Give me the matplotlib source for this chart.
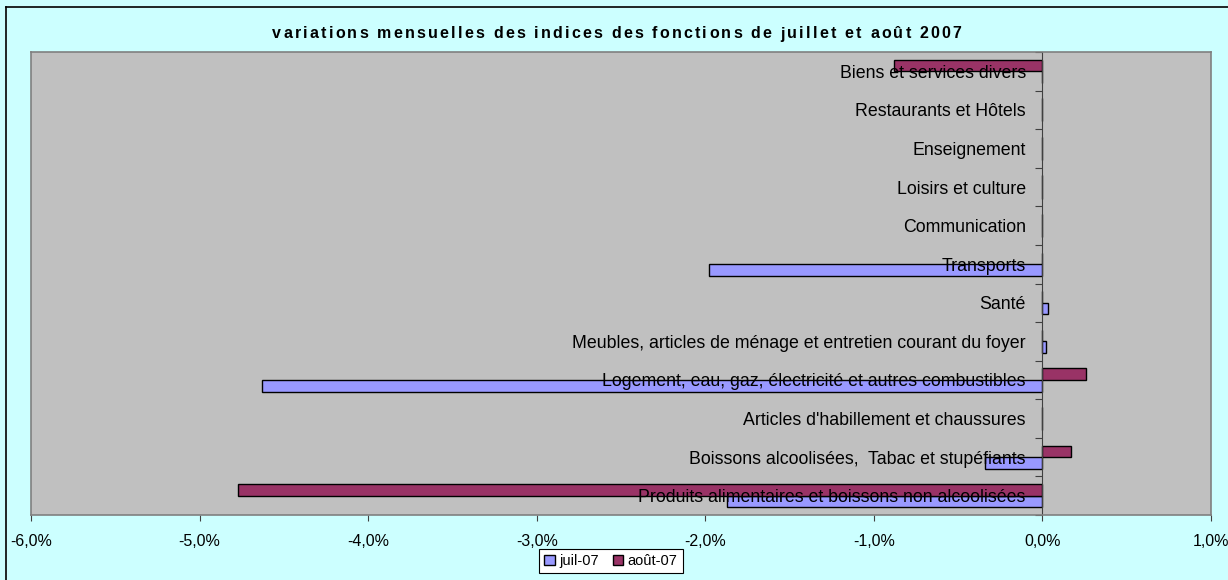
import matplotlib
matplotlib.use('Agg')
import matplotlib.pyplot as plt
from matplotlib.ticker import FuncFormatter, FixedLocator
from matplotlib.lines import Line2D
import numpy as np

plt.rcParams['font.family'] = ['Liberation Sans', 'DejaVu Sans']

# categories from bottom to top
categories = [
    "Produits alimentaires et boissons non alcoolisées",
    "Boissons alcoolisées,  Tabac et stupéfiants",
    "Articles d'habillement et chaussures",
    "Logement, eau, gaz, électricité et autres combustibles",
    "Meubles, articles de ménage et entretien courant du foyer",
    "Santé",
    "Transports",
    "Communication",
    "Loisirs et culture",
    "Enseignement",
    "Restaurants et Hôtels",
    "Biens et services divers",
]
juil_07 = [-0.0187, -0.0034, 0.0, -0.0463, 0.0002, 0.00035, -0.0198, 0.0, 0.0, 0.0, 0.0, 0.0]
aout_07 = [-0.0477, 0.0017, 0.0, 0.0026, 0.0, 0.0, 0.0, 0.0, 0.0, 0.0, 0.0, -0.0088]
title = "variations mensuelles des indices des fonctions de juillet et août 2007"

W, H = 1228, 580
bg = '#CCFFFF'
fig = plt.figure(figsize=(W/100, H/100), dpi=100, facecolor=bg)
ax = fig.add_axes([31/W, 1 - 515/H, (1211 - 31)/W, (515 - 52)/H])
ax.set_facecolor('#C0C0C0')

y = np.arange(len(categories))
h = 0.3
ax.barh(y - h/2, juil_07, height=h, color='#9999FF', edgecolor='black', linewidth=1, label='juil-07')
ax.barh(y + h/2, aout_07, height=h, color='#993366', edgecolor='black', linewidth=1, label='août-07')

ax.set_xlim(-0.06, 0.01)
ax.set_ylim(-0.5, len(categories) - 0.5)

ax.xaxis.set_major_locator(FixedLocator(np.arange(-0.06, 0.0101, 0.01)))
ax.xaxis.set_major_formatter(FuncFormatter(lambda v, p: ('%.1f%%' % (v*100)).replace('.', ',').replace('-0,0', '0,0')))
ax.tick_params(axis='x', direction='out', length=4, width=0.8, color='#404040', pad=10, labelsize=11.5)

ax.set_yticks(y)
ax.set_yticklabels(categories)
ax.set_yticks(np.arange(-0.5, len(categories), 1.0), minor=True)
ax.tick_params(axis='y', which='major', length=0, pad=12, labelsize=12.8, labelcolor='#000000')
ax.tick_params(axis='y', which='minor', direction='out', length=5, width=0.8, color='#404040')

for s in ['top', 'right', 'bottom']:
    ax.spines[s].set_color('#808080')
    ax.spines[s].set_linewidth(1.2)
ax.spines['left'].set_position(('data', 0))
ax.spines['left'].set_color('#404040')
ax.spines['left'].set_linewidth(0.8)
# left border of the plot area
ax.add_line(Line2D([0, 0], [0, 1], transform=ax.transAxes, color='#808080', linewidth=1.2, clip_on=False))

# title with letter spacing, one character at a time
r = fig.canvas.get_renderer()
tkw = dict(fontsize=11.5, fontweight='bold')


def text_w(s):
    t = fig.text(0, 0, s, **tkw)
    w = t.get_window_extent(r).width
    t.remove()
    return w


sp = 2.2
bar_w = text_w('|')
offs = [0.0] + [text_w(title[:i] + '|') - bar_w for i in range(1, len(title))]
total = text_w(title) + (len(title) - 1) * sp
x0 = 617 - total / 2
for i, ch in enumerate(title):
    if ch != ' ':
        fig.text((x0 + offs[i] + i * sp) / W, 1 - 38.5 / H, ch, ha='left', va='baseline', **tkw)

leg = fig.legend(loc='center', bbox_to_anchor=(611/W, 1 - 561/H), ncol=2, fontsize=10.5,
                 frameon=True, fancybox=False, edgecolor='black', framealpha=1,
                 handlelength=0.7, handleheight=0.7, handletextpad=0.3, columnspacing=1.0,
                 borderpad=0.35)
leg.get_frame().set_linewidth(0.8)

# chart border
fig.add_artist(Line2D([6/W, 6/W], [0, 1 - 7/H], color='black', linewidth=1.2))
fig.add_artist(Line2D([6/W, 1], [1 - 7/H, 1 - 7/H], color='black', linewidth=1.2))

fig.savefig('out.png', dpi=100, facecolor=bg)
